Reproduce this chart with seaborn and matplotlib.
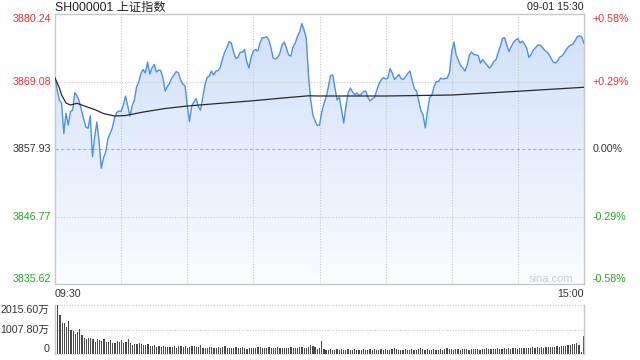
import numpy as np
import pandas as pd
import matplotlib
matplotlib.use("Agg")
import matplotlib.pyplot as plt
import seaborn as sns
from matplotlib.colors import LinearSegmentedColormap

# ---------------- data ----------------
title = "SH000001 上证指数"
stamp = "09-01 15:30"
prev_close = 3857.93
y_ticks = [3835.62, 3846.77, 3857.93, 3869.08, 3880.24]
time_labels = ["09:30", "15:00"]

minutes = list(range(241))
prices = [
    3869.71, 3867.68, 3866.02, 3865.48, 3860.52, 3863.83, 3861.89, 3864.09, 3864.37,
    3867.27, 3866.69, 3865.78, 3864.37, 3862.89, 3861.56, 3861.35, 3863.43, 3856.65, 3859.91,
    3862.39, 3859.13, 3854.74, 3856.44, 3857.43, 3859.58, 3860.52, 3861.40, 3863.05, 3863.96,
    3864.21, 3864.13, 3865.20, 3866.69, 3865.03, 3863.38, 3865.03, 3866.02, 3868.17, 3869.00,
    3870.44, 3871.07, 3870.49, 3872.30, 3870.32, 3871.31, 3871.89, 3870.65, 3870.98, 3870.90,
    3869.66, 3867.51, 3868.26, 3868.83, 3869.66, 3870.16, 3870.74, 3870.49, 3869.33, 3868.67,
    3868.34, 3865.20, 3862.47, 3865.03, 3865.69, 3866.27, 3864.95, 3864.37, 3866.36, 3868.50,
    3869.74, 3869.99, 3870.82, 3870.16, 3870.82, 3870.90, 3871.48, 3872.80, 3873.96, 3874.70,
    3875.66, 3875.45, 3873.96, 3872.92, 3873.05, 3873.91, 3873.91, 3874.37, 3872.35, 3871.31,
    3873.13, 3874.12, 3874.37, 3874.12, 3875.45, 3876.32, 3876.32, 3876.49, 3875.94, 3874.62,
    3872.96, 3872.80, 3873.05, 3873.71, 3875.11, 3875.61, 3874.62, 3873.46, 3873.30, 3874.78,
    3875.45, 3876.52, 3877.26, 3878.67, 3877.59, 3876.27, 3870.16, 3866.02, 3863.55, 3862.55,
    3861.81, 3861.89,
    3864.04, 3865.37, 3866.52, 3868.17, 3870.07, 3870.16, 3868.01, 3866.02, 3866.52, 3864.37,
    3862.22, 3865.03, 3867.18, 3868.01, 3867.35, 3866.93, 3867.18, 3866.77, 3867.02, 3867.43,
    3867.51, 3866.44, 3865.86, 3866.27, 3866.44, 3867.68, 3868.67, 3869.41, 3869.74, 3869.49,
    3869.66, 3871.23, 3870.49, 3869.41, 3869.83, 3870.24, 3869.58, 3869.41, 3869.91, 3870.41,
    3870.82, 3869.33, 3867.93, 3867.51, 3865.86, 3864.29, 3863.55, 3861.40, 3864.21, 3866.44,
    3866.85, 3868.26, 3869.08, 3869.08, 3869.66, 3869.49, 3869.58, 3869.66, 3870.65, 3874.01,
    3875.61, 3873.46, 3872.63, 3871.73, 3871.31, 3870.82, 3871.81, 3873.46, 3873.96, 3873.54,
    3873.46, 3873.38, 3872.14, 3872.72, 3872.22, 3871.81, 3871.31, 3871.64, 3872.39, 3872.63,
    3873.79, 3874.87, 3876.22, 3876.32, 3875.11, 3874.04, 3874.87, 3875.56, 3875.94, 3876.19,
    3875.45, 3875.77, 3875.23, 3874.62, 3873.05, 3873.58, 3874.29, 3874.67, 3875.11, 3875.11,
    3874.78, 3874.29, 3874.04, 3873.63, 3872.96, 3872.30, 3872.14, 3872.47, 3873.13, 3873.30,
    3873.79, 3874.37, 3874.87, 3875.11, 3875.28, 3875.86, 3876.52, 3876.63, 3876.44, 3875.36,
]

avg_minutes = [0, 2, 3, 5, 7, 10, 14, 18, 22, 27, 32, 40, 50, 60, 75, 90, 105, 115, 120,
               150, 180, 210, 240]
avg_prices = [3869.66, 3868.01, 3866.85, 3865.53, 3865.20, 3865.48, 3864.95, 3864.45,
              3863.79, 3863.38, 3863.46, 3864.04, 3864.62, 3865.03, 3865.48, 3865.91,
              3866.41, 3866.72, 3866.69, 3866.69, 3866.85, 3867.47, 3868.13]

volumes = [
    686, 2015.6, 1604, 1289, 1261, 1124, 1357, 987, 946, 823, 919, 1028, 781,
    644, 617, 658, 644, 603, 507, 631, 576, 535, 603, 480, 480, 576, 466, 466, 535, 507, 576, 439, 507, 603, 466,
    370, 398, 411, 439, 398, 370, 356, 411, 343, 343, 370, 302, 329, 302, 315,
    302, 288, 302, 274, 329, 260, 343, 315, 274, 343, 260, 288, 315, 343, 288, 302, 356, 247, 260, 260,
    274, 288, 247, 260, 274, 260, 288, 329, 233, 247, 260, 260, 288, 233, 247, 274, 260, 220, 247, 233,
    260, 247, 274, 288, 247, 233, 260, 274, 247, 233, 260, 288, 247, 233, 260, 233, 247, 274, 260, 247,
    260, 288, 274, 247, 260, 302, 384, 343, 274, 205, 247,
    535, 192, 178, 165, 192, 178, 165, 192, 178, 192, 165, 178, 205, 165, 178, 192, 178, 165, 178, 192,
    178, 165, 205, 178, 192, 165, 178, 192, 178, 219, 165, 178, 192, 260, 192, 178, 165, 178, 192, 178,
    165, 192, 178, 165, 219, 233, 205, 178, 192, 165, 178, 192, 178, 165, 192, 178, 205, 247, 219, 192,
    178, 192, 205, 178, 192, 205, 219, 178, 192, 205, 219, 192, 178, 205, 219, 233, 205, 192, 219,
    205, 233, 192, 219, 233, 205, 247, 219, 233, 260, 219, 247, 233, 260, 247,
    233, 260, 288, 247, 274, 260, 288, 247, 288, 302, 274, 302, 288, 315, 302,
    329, 343, 315, 356, 370, 398, 411, 466, 370, 96, 740,
]
vol_ticks = [0, 1007.80, 2015.60]
vol_labels = ["0", "1007.80万", "2015.60万"]

assert len(prices) == 241 and len(volumes) == 241

# ---------------- style ----------------
sns.set_theme(style="white")
plt.rcParams["font.family"] = ["Liberation Sans", "Noto Sans CJK SC", "DejaVu Sans"]

RED = "#f03030"
GREEN = "#22a822"
DARK = "#333333"
GRID = "#c8c8c8"
W, H = 640, 360

fig = plt.figure(figsize=(6.4, 3.6), dpi=100)
fig.patch.set_facecolor("white")
ax = fig.add_axes([55 / W, 1 - 284 / H, 529 / W, 270 / H])
axv = fig.add_axes([55 / W, 1 - 354 / H, 529 / W, 49 / H])

ymin, ymax = y_ticks[0], y_ticks[-1]

df = pd.DataFrame({"minute": minutes, "price": prices})

# gradient fill under the price line
poly = ax.fill_between(df["minute"], df["price"], ymin, facecolor="none", edgecolor="none")
grad = np.linspace(1, 0, 256).reshape(-1, 1)
cmap = LinearSegmentedColormap.from_list("g", ["#fafcff", "#cfdff8"])
im = ax.imshow(grad, extent=[0, 240, ymin, ymax], aspect="auto", cmap=cmap,
               origin="upper", zorder=1, interpolation="bilinear")
im.set_clip_path(poly.get_paths()[0], transform=ax.transData)

# grid
for y in y_ticks[1:-1]:
    if abs(y - prev_close) < 1e-6:
        ax.axhline(y, color="#b4b4b4", lw=0.8, ls=(0, (3, 2)), zorder=1.5)
    else:
        ax.axhline(y, color=GRID, lw=0.8, ls=(0, (1, 1.5)), zorder=1.5)
for m in [30, 60, 90, 120, 150, 180, 210]:
    ax.axvline(m, color=GRID, lw=0.8, ls=(0, (1, 1.5)), zorder=1.5)

sns.lineplot(data=df, x="minute", y="price", ax=ax, color="#4f90e8", lw=1.0, zorder=3)
sns.lineplot(x=avg_minutes, y=avg_prices, ax=ax, color="#2a2a2a", lw=0.9, zorder=4)

ax.set_xlim(0, 240)
ax.set_ylim(ymin, ymax)
ax.set_xlabel("")
ax.set_ylabel("")
for s in ax.spines.values():
    s.set_visible(True)
    s.set_color(GRID)
    s.set_linewidth(1.0)

ax.set_yticks(y_ticks)
ax.set_yticklabels([f"{v:.2f}" for v in y_ticks])
cols = [GREEN, GREEN, DARK, RED, RED]
vas = ["bottom", "center", "center", "center", "top"]
ax.tick_params(axis="y", length=0, pad=3, labelsize=7.7)
for lbl, c, va in zip(ax.get_yticklabels(), cols, vas):
    lbl.set_color(c)
    lbl.set_va(va)

ax.set_xticks([0, 240])
ax.set_xticklabels(time_labels)
ax.tick_params(axis="x", length=0, pad=3.5, labelsize=7.7, labelcolor=DARK)
xl = ax.get_xticklabels()
xl[0].set_ha("left")
xl[1].set_ha("right")

# right percentage axis
axr = ax.twinx()
axr.set_ylim(ymin, ymax)
axr.set_yticks(y_ticks)
pct = []
for v in y_ticks:
    p = (v - prev_close) / prev_close * 100
    if abs(p) < 0.005:
        pct.append("0.00%")
    else:
        pct.append(f"{p:+.2f}%")
axr.set_yticklabels(pct)
axr.tick_params(axis="y", length=0, pad=6, labelsize=7.7)
for lbl, c, va in zip(axr.get_yticklabels(), cols, vas):
    lbl.set_color(c)
    lbl.set_va(va)
for s in axr.spines.values():
    s.set_visible(False)
axr.grid(False)

# volume
sns.barplot(x=minutes, y=volumes, native_scale=True, ax=axv, color="#4a4a4a",
            saturation=1, width=0.55, errorbar=None, linewidth=0)
axv.set_xlim(-0.3, 240.3)
axv.set_ylim(0, 2015.6)
axv.set_xticks([])
axv.set_xlabel("")
axv.set_ylabel("")
for k in ["top", "bottom"]:
    axv.spines[k].set_visible(False)
for k in ["left", "right"]:
    axv.spines[k].set_visible(True)
    axv.spines[k].set_color(GRID)
    axv.spines[k].set_linewidth(1.0)
for y in vol_ticks:
    axv.axhline(y, color=GRID, lw=0.8, ls=(0, (1, 1.5)), zorder=0.5, clip_on=False)
axv.set_yticks(vol_ticks)
axv.set_yticklabels(vol_labels)
axv.tick_params(axis="y", length=0, pad=4, labelsize=7.7, labelcolor=DARK)
for lbl, va in zip(axv.get_yticklabels(), ["bottom", "center", "top"]):
    lbl.set_va(va)

# texts
fig.text(55 / W, 1 - 7.5 / H, title, ha="left", va="center", fontsize=8.8, color="#222222")
fig.text(584 / W, 1 - 7.5 / H, stamp, ha="right", va="center", fontsize=7.7, color="#222222")
fig.text(573 / W, 1 - 279 / H, "sina.com", ha="right", va="center", fontsize=8, color="#cccccc")

fig.savefig("out.png", dpi=100, facecolor="white")
